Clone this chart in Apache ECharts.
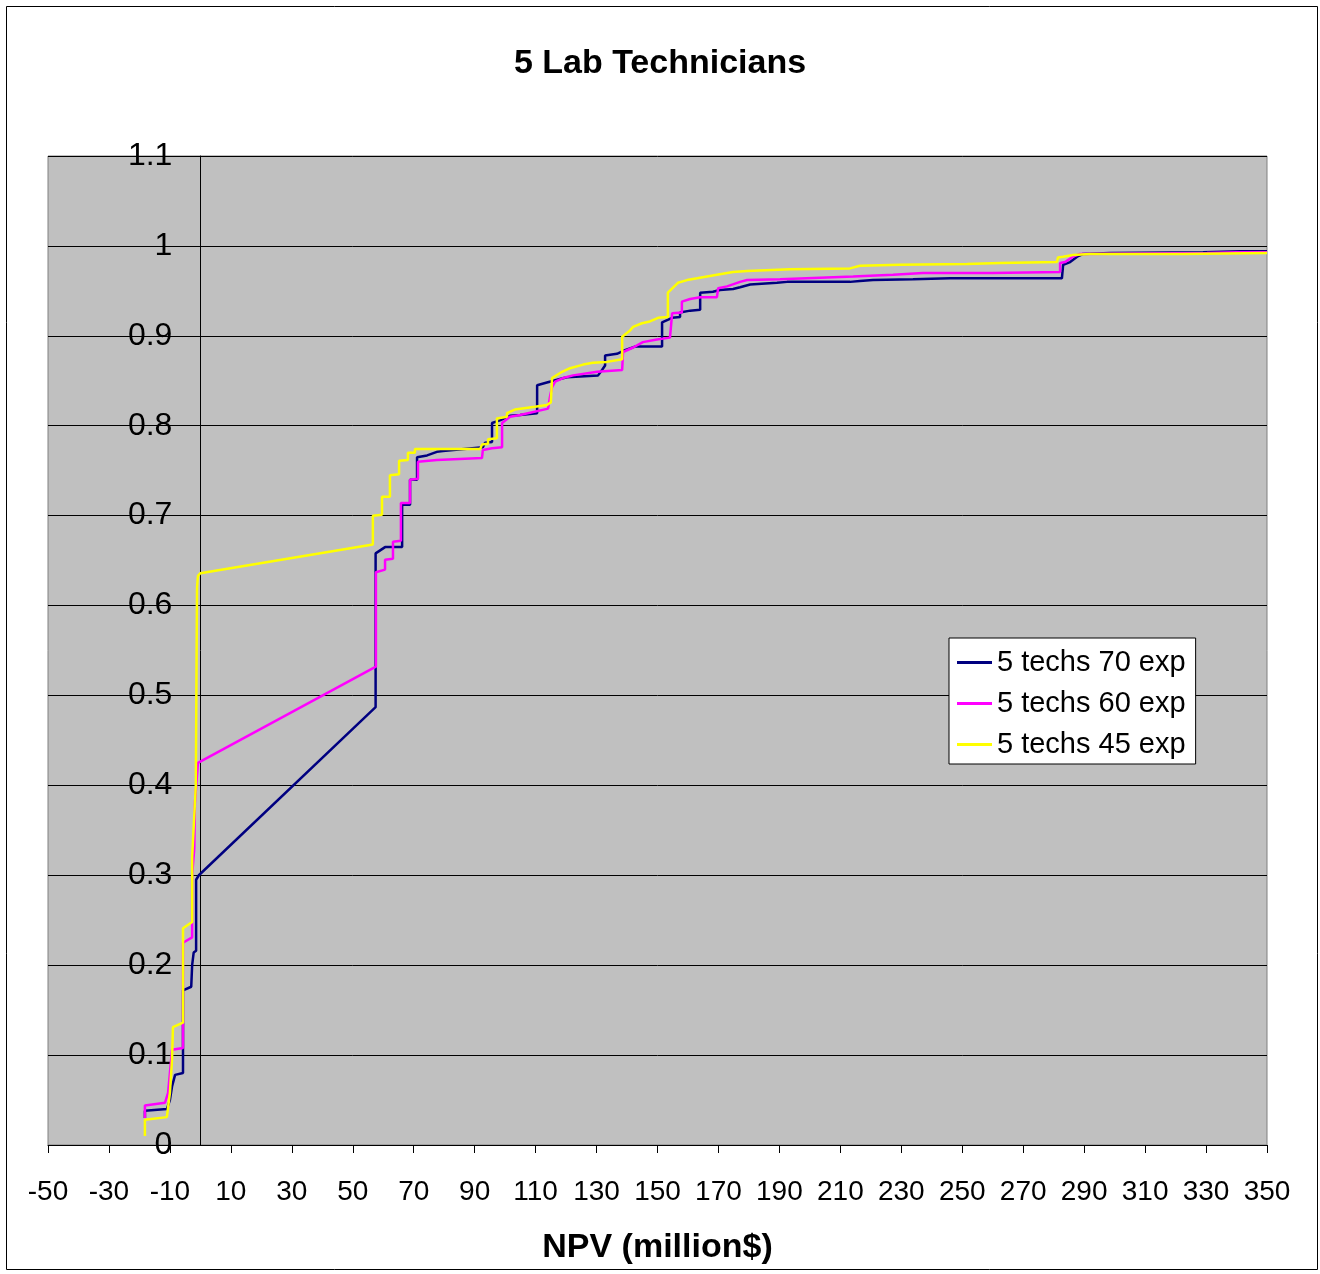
<!DOCTYPE html>
<html>
<head>
<meta charset="utf-8">
<title>5 Lab Technicians</title>
<script src="https://cdn.jsdelivr.net/npm/echarts@6/dist/echarts.min.js"></script>
<style>
  html, body { margin: 0; padding: 0; background: #fff; }
  #chart { width: 1320px; height: 1274px; }
</style>
</head>
<body>
<div id="chart"></div>
<script>
// NPV (million$) and cumulative probability
const npv70 = [-18.2, -18.2, -11.0, -10.0, -9.3, -8.3, -5.7, -5.7, -3.0, -2.7, -2.2, -1.4, -1.4, -0.5,
  57.5, 57.5, 60.6, 66.2, 66.2, 68.8, 68.8, 71.1, 71.1, 74.4, 77.6, 79.6, 92.7, 93.4, 95.7, 95.7,
  98.3, 101.6, 104.9, 104.9, 110.5, 110.5, 113.7, 113.7, 118.0, 120.3, 130.5, 131.8, 132.8, 132.8,
  136.7, 139.3, 142.6, 151.5, 151.5, 154.8, 157.4, 157.4, 160.7, 164.0, 164.0, 168.2, 170.5, 174.8,
  177.1, 180.4, 189.2, 192.5, 213.2, 216.4, 220.7, 233.8, 246.0, 282.7, 283.1, 285.4, 287.7, 289.6,
  298.5, 329.0, 341.1, 350.0]
const prob70 = [0.030, 0.038, 0.040, 0.050, 0.065, 0.078, 0.080, 0.172, 0.176, 0.200, 0.214, 0.216, 0.295, 0.300,
  0.487, 0.658, 0.665, 0.665, 0.712, 0.712, 0.740, 0.740, 0.765, 0.767, 0.771, 0.772, 0.776, 0.781, 0.782, 0.803,
  0.806, 0.811, 0.812, 0.814, 0.814, 0.845, 0.848, 0.850, 0.852, 0.854, 0.856, 0.862, 0.867, 0.878,
  0.880, 0.884, 0.888, 0.888, 0.915, 0.920, 0.921, 0.926, 0.928, 0.929, 0.948, 0.949, 0.951, 0.952,
  0.954, 0.957, 0.959, 0.960, 0.960, 0.961, 0.962, 0.963, 0.964, 0.964, 0.979, 0.982, 0.988, 0.991,
  0.992, 0.993, 0.994, 0.994]

const npv60 = [-18.2, -18.2, -11.6, -10.6, -10.0, -9.3, -5.7, -5.7, -2.7, -2.7, -2.0, -1.8, -0.8,
  57.6, 57.6, 60.6, 60.6, 63.2, 63.2, 65.8, 65.8, 68.8, 68.8, 71.4, 71.4, 77.6, 92.4, 92.7, 95.7,
  99.0, 99.0, 101.6, 104.9, 114.1, 114.7, 115.4, 116.4, 119.0, 122.3, 130.2, 138.4, 138.7, 142.0,
  145.2, 149.8, 154.1, 154.8, 158.0, 158.0, 160.7, 164.0, 169.5, 169.9, 172.8, 177.1, 179.4, 190.2,
  214.2, 227.3, 237.1, 259.8, 260.0, 282.1, 282.1, 283.7, 286.3, 288.6, 330.3, 340.1, 350.0]
const prob60 = [0.030, 0.044, 0.047, 0.058, 0.080, 0.106, 0.108, 0.225, 0.231, 0.300, 0.330, 0.380, 0.425,
  0.532, 0.637, 0.640, 0.651, 0.652, 0.671, 0.672, 0.714, 0.714, 0.740, 0.741, 0.760, 0.762, 0.764, 0.773, 0.775,
  0.776, 0.803, 0.810, 0.812, 0.819, 0.832, 0.843, 0.849, 0.853, 0.856, 0.860, 0.862, 0.882, 0.887,
  0.893, 0.896, 0.898, 0.925, 0.926, 0.938, 0.941, 0.943, 0.943, 0.953, 0.955, 0.960, 0.962, 0.963,
  0.966, 0.968, 0.970, 0.970, 0.971, 0.971, 0.981, 0.982, 0.988, 0.991, 0.992, 0.993, 0.993]

const npv45 = [-18.2, -18.2, -11.0, -10.0, -9.3, -9.0, -5.7, -5.7, -2.7, -2.7, -1.8, -1.5, -1.1, -0.8, 0.0,
  56.6, 56.6, 59.6, 59.6, 62.2, 62.2, 65.2, 65.2, 68.1, 68.1, 70.4, 70.4, 91.8, 92.4, 94.4, 94.4,
  97.3, 97.3, 100.6, 100.6, 103.2, 109.8, 113.7, 115.0, 115.4, 118.7, 121.3, 125.6, 128.8, 133.4,
  138.4, 138.4, 141.0, 142.0, 144.9, 147.5, 150.2, 153.4, 153.4, 156.7, 159.7, 163.0, 169.5, 174.8,
  179.4, 193.5, 213.2, 216.4, 229.6, 251.6, 262.4, 281.1, 281.4, 283.1, 286.3, 291.9, 322.4, 322.4, 350.0]
const prob45 = [0.010, 0.028, 0.031, 0.058, 0.095, 0.131, 0.136, 0.241, 0.248, 0.320, 0.380, 0.400, 0.620, 0.633, 0.636,
  0.668, 0.700, 0.701, 0.721, 0.721, 0.745, 0.746, 0.761, 0.762, 0.770, 0.770, 0.774, 0.774, 0.779, 0.780, 0.785,
  0.786, 0.808, 0.810, 0.814, 0.818, 0.821, 0.823, 0.826, 0.853, 0.860, 0.864, 0.868, 0.870, 0.871,
  0.874, 0.899, 0.906, 0.910, 0.914, 0.916, 0.920, 0.921, 0.948, 0.959, 0.962, 0.964, 0.968, 0.971,
  0.972, 0.974, 0.975, 0.978, 0.979, 0.980, 0.981, 0.982, 0.987, 0.988, 0.990, 0.991, 0.991, 0.992, 0.992]

const xTicks = [-50, -30, -10, 10, 30, 50, 70, 90, 110, 130, 150, 170, 190, 210, 230, 250, 270, 290, 310, 330, 350]
const seriesNames = ['5 techs 70 exp', '5 techs 60 exp', '5 techs 45 exp']
const seriesColors = ['#000080', '#FF00FF', '#FFFF00']

const font = 'Liberation Sans, Arial, sans-serif'

// plot box in pixels; the y axis sits on x = 0 inside it
const gridLeft = 48
const gridWidth = 1219
const xMin = -50
const xMax = 350

function pairs(xs, ys) {
  return xs.map((x, i) => [x, ys[i]])
}

const chart = echarts.init(document.getElementById('chart'))
chart.setOption({
  animation: false,
  backgroundColor: '#fff',
  title: {
    text: '5 Lab Technicians',
    left: 'center',
    top: 42,
    textStyle: { fontFamily: font, fontSize: 34, fontWeight: 'bold', color: '#000' }
  },
  // outer chart border
  graphic: [{
    type: 'rect',
    shape: { x: 6.5, y: 6.5, width: 1311, height: 1263 },
    style: { fill: 'none', stroke: '#000', lineWidth: 1 },
    silent: true
  }],
  legend: {
    orient: 'vertical',
    left: 949,
    top: 638,
    padding: [9, 10, 4, 8],
    itemGap: 10,
    itemWidth: 35,
    itemHeight: 3,
    icon: 'rect',
    backgroundColor: '#fff',
    borderColor: '#000',
    borderWidth: 1,
    textStyle: { fontFamily: font, fontSize: 29, lineHeight: 31, color: '#000' },
    data: seriesNames
  },
  grid: {
    left: gridLeft,
    top: 156,
    width: gridWidth,
    height: 989,
    containLabel: false,
    outerBoundsMode: 'none',
    show: true,
    backgroundColor: '#C0C0C0',
    borderColor: '#808080',
    borderWidth: 1
  },
  xAxis: {
    type: 'value',
    min: xMin,
    max: xMax,
    name: 'NPV (million$)',
    nameLocation: 'middle',
    nameGap: 86,
    nameTextStyle: { fontFamily: font, fontSize: 34, fontWeight: 'bold', color: '#000' },
    axisLine: { onZero: false, lineStyle: { color: '#000', width: 1 } },
    axisTick: { show: true, length: 8, customValues: xTicks, lineStyle: { color: '#000' } },
    axisLabel: {
      customValues: xTicks,
      margin: 33,
      fontFamily: font,
      fontSize: 28,
      color: '#000'
    },
    splitLine: { show: false }
  },
  yAxis: {
    type: 'value',
    min: 0,
    max: 1.1,
    interval: 0.1,
    // pull the axis in from the left edge to where x = 0
    offset: -(0 - xMin) / (xMax - xMin) * gridWidth,
    axisLine: { show: true, onZero: false, lineStyle: { color: '#000', width: 1 } },
    axisTick: { show: true, length: 9, lineStyle: { color: '#000' } },
    axisLabel: {
      margin: 28,
      fontFamily: font,
      fontSize: 32,
      color: '#000',
      formatter: v => String(parseFloat(v.toFixed(1)))
    },
    splitLine: { show: true, lineStyle: { color: '#000', width: 1 } }
  },
  series: [
    { name: seriesNames[0], data: pairs(npv70, prob70) },
    { name: seriesNames[1], data: pairs(npv60, prob60) },
    { name: seriesNames[2], data: pairs(npv45, prob45) }
  ].map((s, i) => ({
    type: 'line',
    name: s.name,
    data: s.data,
    symbol: 'none',
    color: seriesColors[i],
    lineStyle: { color: seriesColors[i], width: 2.5 }
  }))
})
</script>
</body>
</html>
